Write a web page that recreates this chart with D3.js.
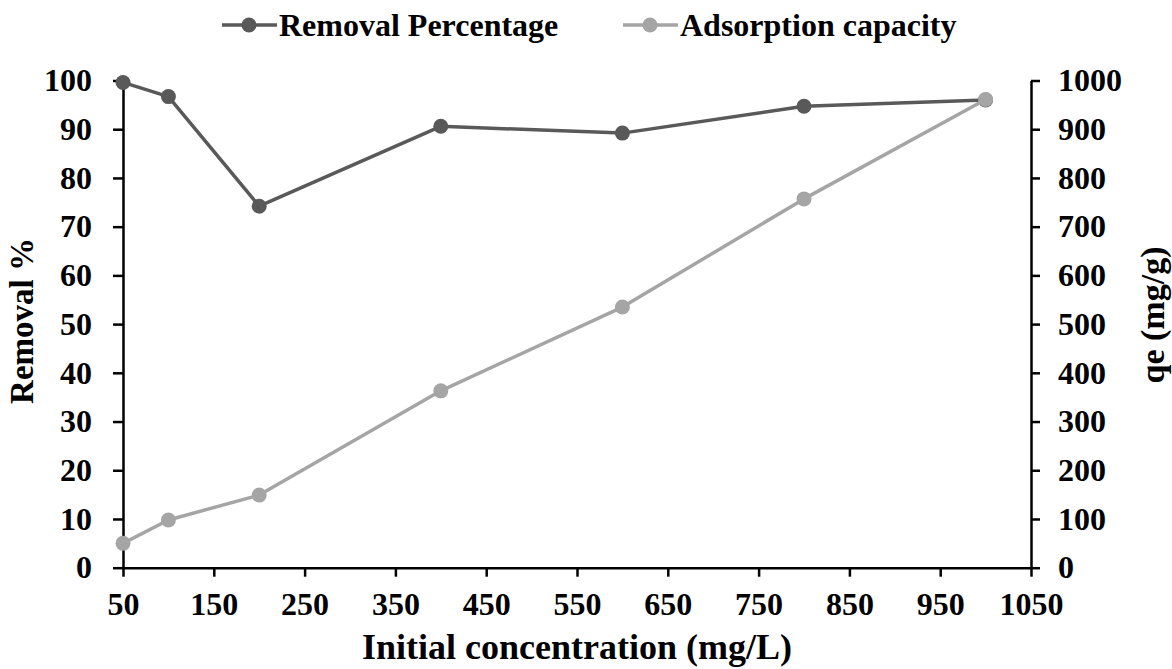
<!DOCTYPE html>
<html>
<head>
<meta charset="utf-8">
<script src="https://cdn.jsdelivr.net/npm/d3@7"></script>
<style>
  html, body { margin: 0; padding: 0; background: #fff; }
  svg { display: block; font-family: "Liberation Serif", "Times New Roman", serif; font-weight: bold; }
</style>
</head>
<body>
<svg id="chart" width="1172" height="669"></svg>
<script>
// Initial concentration (mg/L)
const concentrations = [50, 100, 200, 400, 600, 800, 1000];
// Removal percentage (%)
const removal = [99.6, 96.7, 74.2, 90.6, 89.2, 94.7, 96.0];
// Adsorption capacity qe (mg/g)
const capacity = [50, 98, 149, 363, 535, 757, 961];

const xTicks = [50, 150, 250, 350, 450, 550, 650, 750, 850, 950, 1050];
const leftTicks = [0, 10, 20, 30, 40, 50, 60, 70, 80, 90, 100];
const rightTicks = [0, 100, 200, 300, 400, 500, 600, 700, 800, 900, 1000];

const seriesInfo = [
  { name: "Removal Percentage", values: removal, color: "#595959", axis: "left" },
  { name: "Adsorption capacity", values: capacity, color: "#a5a5a5", axis: "right" }
];

const svg = d3.select("#chart");
const plot = { left: 123, right: 1031, top: 80.5, bottom: 567.7 };

const x = d3.scaleLinear().domain([50, 1050]).range([plot.left, plot.right]);
const yL = d3.scaleLinear().domain([0, 100]).range([plot.bottom, plot.top]);
const yR = d3.scaleLinear().domain([0, 1000]).range([plot.bottom, plot.top]);

function styleAxis(g) {
  g.select(".domain").attr("stroke", "#000").attr("stroke-width", 2.5);
  g.selectAll(".tick line").attr("stroke", "#000").attr("stroke-width", 2.5);
  g.selectAll(".tick text").attr("fill", "#000").style("font-size", "32px")
    .style("font-family", "'Liberation Serif', 'Times New Roman', serif").style("font-weight", "bold");
}

svg.append("g")
  .attr("transform", `translate(0,${plot.bottom})`)
  .call(d3.axisBottom(x).tickValues(xTicks).tickSize(9).tickSizeOuter(0).tickPadding(16).tickFormat(d3.format("d")))
  .call(styleAxis);

svg.append("g")
  .attr("transform", `translate(${plot.left},0)`)
  .call(d3.axisLeft(yL).tickValues(leftTicks).tickSize(10).tickSizeOuter(0).tickPadding(21).tickFormat(d3.format("d")))
  .call(styleAxis);

svg.append("g")
  .attr("transform", `translate(${plot.right},0)`)
  .call(d3.axisRight(yR).tickValues(rightTicks).tickSize(9).tickSizeOuter(0).tickPadding(18).tickFormat(d3.format("d")))
  .call(styleAxis);

// series lines and markers
seriesInfo.forEach(s => {
  const y = s.axis === "left" ? yL : yR;
  const pts = concentrations.map((c, i) => [c, s.values[i]]);
  svg.append("path")
    .datum(pts)
    .attr("fill", "none")
    .attr("stroke", s.color)
    .attr("stroke-width", 3.5)
    .attr("stroke-linejoin", "round")
    .attr("d", d3.line().x(d => x(d[0])).y(d => y(d[1])));
  svg.append("g").selectAll("circle")
    .data(pts)
    .join("circle")
    .attr("cx", d => x(d[0]))
    .attr("cy", d => y(d[1]))
    .attr("r", 7.5)
    .attr("fill", s.color);
});

// axis titles
svg.append("text")
  .attr("x", 577)
  .attr("y", 659)
  .attr("text-anchor", "middle")
  .style("font-size", "36px")
  .text("Initial concentration (mg/L)");

svg.append("text")
  .attr("transform", `translate(33,321) rotate(-90)`)
  .attr("text-anchor", "middle")
  .style("font-size", "33px")
  .text("Removal %");

svg.append("text")
  .attr("transform", `translate(1164,315) rotate(-90)`)
  .attr("text-anchor", "middle")
  .style("font-size", "34px")
  .text("qe (mg/g)");

// legend
const legendX = [222, 623];
seriesInfo.forEach((s, i) => {
  const g = svg.append("g").attr("transform", `translate(${legendX[i]},25)`);
  g.append("line").attr("x1", 0).attr("x2", 55).attr("y1", 0).attr("y2", 0)
    .attr("stroke", s.color).attr("stroke-width", 3.5);
  g.append("circle").attr("cx", 27).attr("cy", 0).attr("r", 7.5).attr("fill", s.color);
  g.append("text").attr("x", 57).attr("y", 11).style("font-size", "32px").text(s.name);
});
</script>
</body>
</html>
